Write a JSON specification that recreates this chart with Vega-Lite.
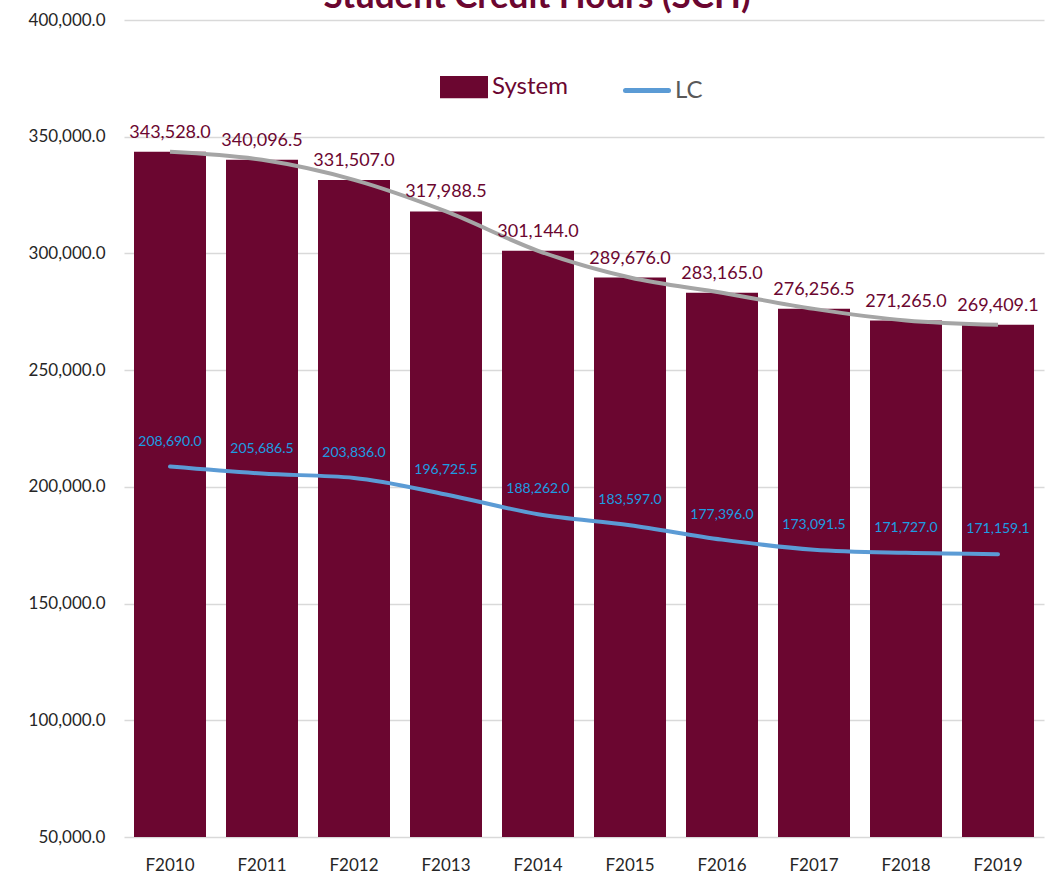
{
  "$schema": "https://vega.github.io/schema/vega-lite/v6.json",
  "width": 920,
  "height": 817,
  "autosize": "none",
  "padding": {"left": 124, "top": 20, "right": 13, "bottom": 40},
  "title": {"text": "Student Credit Hours (SCH)", "fontSize": 35, "fontWeight": "bold", "color": "#6b0630", "font": "Lato", "anchor": "middle", "frame": "group", "baseline": "alphabetic", "offset": -32, "dx": -47},
  "data": {"values": [
    {"year": "F2010", "system": 343528.0, "lc": 208690.0},
    {"year": "F2011", "system": 340096.5, "lc": 205686.5},
    {"year": "F2012", "system": 331507.0, "lc": 203836.0},
    {"year": "F2013", "system": 317988.5, "lc": 196725.5},
    {"year": "F2014", "system": 301144.0, "lc": 188262.0},
    {"year": "F2015", "system": 289676.0, "lc": 183597.0},
    {"year": "F2016", "system": 283165.0, "lc": 177396.0},
    {"year": "F2017", "system": 276256.5, "lc": 173091.5},
    {"year": "F2018", "system": 271265.0, "lc": 171727.0},
    {"year": "F2019", "system": 269409.1, "lc": 171159.1}
  ]},
  "encoding": {
    "x": {"field": "year", "type": "nominal", "sort": null,
      "scale": {"paddingInner": 0.2174, "paddingOuter": 0.1087},
      "axis": {"title": null, "domain": false, "ticks": false, "labelAngle": 0, "labelFontSize": 17, "labelFont": "Lato", "labelColor": "#262626", "labelPadding": 20}}
  },
  "layer": [
    {
      "mark": {"type": "bar"},
      "encoding": {
        "y": {"field": "system", "type": "quantitative",
          "scale": {"domain": [50000, 400000], "zero": false, "nice": false},
          "axis": {"title": null, "domain": false, "ticks": false, "values": [50000, 100000, 150000, 200000, 250000, 300000, 350000, 400000], "format": ",.1f", "labelOverlap": false, "labelFontSize": 17, "labelFont": "Lato", "labelColor": "#262626", "labelPadding": 19, "gridColor": "#d9d9d9", "gridWidth": 1.5}},
        "y2": {"datum": 50000},
        "color": {"datum": "System", "type": "nominal",
          "scale": {"domain": ["System", "LC"], "range": ["#6b0630", "#5b9bd5"]},
          "legend": {"orient": "none", "legendX": 316, "legendY": 43, "direction": "horizontal", "title": null,
            "symbolSize": 1849, "labelFontSize": 24, "labelFont": "Lato", "columnPadding": 47, "labelOffset": 4, "symbolStrokeWidth": 5,
            "encode": {
              "symbols": {"update": {
                "shape": {"signal": "datum.label === 'LC' ? 'stroke' : 'M-1,-0.4H1V0.4H-1Z'"},
                "stroke": {"signal": "datum.label === 'LC' ? '#5b9bd5' : 'transparent'"},
                "fill": {"signal": "datum.label === 'LC' ? 'transparent' : '#6b0630'"},
                "strokeWidth": {"value": 5},
                "strokeCap": {"value": "round"},
                "opacity": {"value": 1}
              }},
              "labels": {"update": {"fill": {"signal": "datum.label === 'LC' ? '#595959' : '#6b0630'"}}}
            }}}
      }
    },
    {
      "mark": {"type": "line", "interpolate": "monotone", "color": "#a5a5a5", "strokeWidth": 4},
      "encoding": {"y": {"field": "system", "type": "quantitative"}}
    },
    {
      "mark": {"type": "line", "interpolate": "monotone", "strokeWidth": 4, "strokeCap": "round"},
      "encoding": {"y": {"field": "lc", "type": "quantitative"}, "color": {"datum": "LC", "type": "nominal"}}
    },
    {
      "mark": {"type": "text", "baseline": "alphabetic", "dy": -14, "fontSize": 18, "font": "Lato", "color": "#6b0630"},
      "encoding": {"y": {"field": "system", "type": "quantitative"}, "text": {"field": "system", "type": "quantitative", "format": ",.1f"}}
    },
    {
      "mark": {"type": "text", "baseline": "alphabetic", "dy": -21, "fontSize": 14, "font": "Lato", "color": "#1b9de2"},
      "encoding": {"y": {"field": "lc", "type": "quantitative"}, "text": {"field": "lc", "type": "quantitative", "format": ",.1f"}}
    }
  ],
  "config": {"view": {"stroke": null}, "font": "Lato"}
}
